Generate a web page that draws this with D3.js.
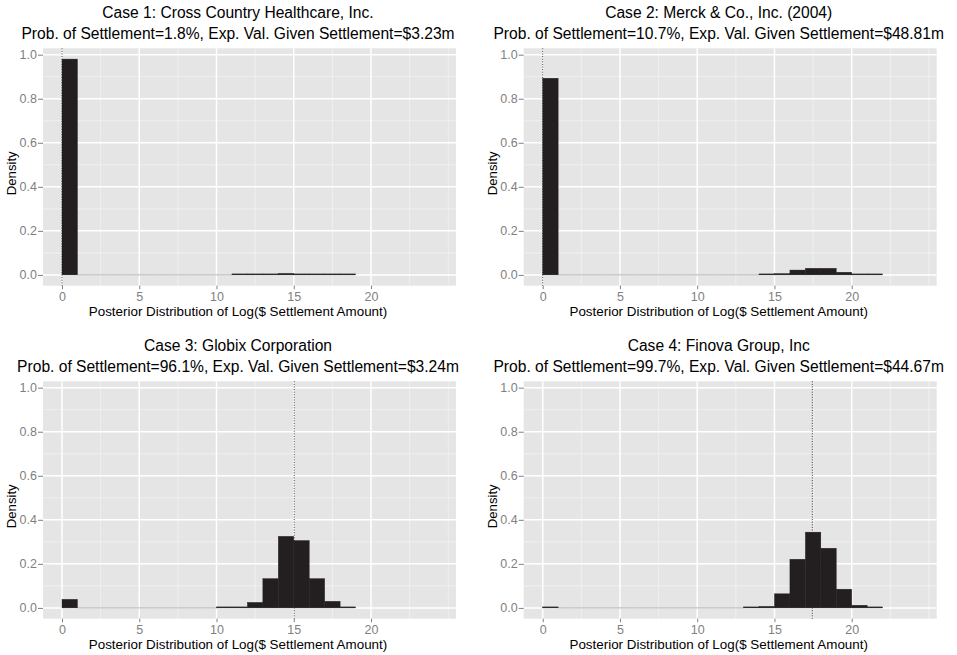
<!DOCTYPE html>
<html><head><meta charset="utf-8">
<script src="https://cdn.jsdelivr.net/npm/d3@7"></script>
<style>
body{margin:0;background:#fff}
svg{display:block}
text{font-family:"Liberation Sans",Arial,Helvetica,sans-serif}
</style>
</head><body>
<svg id="c" width="957" height="655"></svg>
<script>
// ---------- DATA ----------
const caseTitles = [
  "Case 1: Cross Country Healthcare, Inc.",
  "Case 2: Merck & Co., Inc. (2004)",
  "Case 3: Globix Corporation",
  "Case 4: Finova Group, Inc"
];
const caseSubtitles = [
  "Prob. of Settlement=1.8%, Exp. Val. Given Settlement=$3.23m",
  "Prob. of Settlement=10.7%, Exp. Val. Given Settlement=$48.81m",
  "Prob. of Settlement=96.1%, Exp. Val. Given Settlement=$3.24m",
  "Prob. of Settlement=99.7%, Exp. Val. Given Settlement=$44.67m"
];
const binWidth = 1;   // histogram bins start at 0, width 1
const case1Density = [0.980, 0, 0, 0, 0, 0, 0, 0, 0, 0, 0, 0.0005, 0.001, 0.003, 0.007, 0.003, 0.003, 0.0005, 0.0005];
const case2Density = [0.893, 0, 0, 0, 0, 0, 0, 0, 0, 0, 0, 0, 0, 0, 0.001, 0.006, 0.022, 0.030, 0.030, 0.012, 0.004, 0.001];
const case3Density = [0.039, 0, 0, 0, 0, 0, 0, 0, 0, 0, 0.001, 0.001, 0.025, 0.133, 0.325, 0.306, 0.133, 0.030, 0.002];
const case4Density = [0.003, 0, 0, 0, 0, 0, 0, 0, 0, 0, 0, 0, 0, 0.001, 0.007, 0.064, 0.221, 0.344, 0.271, 0.085, 0.012, 0.002];
const medianLines = [0, 0, 15.03, 17.45];
const xTicks = [0, 5, 10, 15, 20];
const xMinorTicks = [2.5, 7.5, 12.5, 17.5, 22.5, 25];
const yTicks = [0, 0.2, 0.4, 0.6, 0.8, 1.0];
const yMinorTicks = [0.1, 0.3, 0.5, 0.7, 0.9];
const xDomain = [-1.23, 25.5];
const yDomain = [-0.049, 1.029];
const xLabel = "Posterior Distribution of Log($ Settlement Amount)";
const yLabel = "Density";

const densities = [case1Density, case2Density, case3Density, case4Density];

// ---------- LAYOUT ----------
const panels = [
  {ox: 0,   oy: 0,   left: 43},
  {ox: 478, oy: 0,   left: 45.7},
  {ox: 0,   oy: 333, left: 43},
  {ox: 478, oy: 333, left: 45.7}
];
const plotW = 413, plotTop = 48.3, plotBottom = 285.7;
const barColor = "#231f20";

const svg = d3.select("#c");

panels.forEach((p, i) => {
  const L = p.ox + p.left, R = L + plotW;
  const T = p.oy + plotTop, B = p.oy + plotBottom;
  const x = d3.scaleLinear().domain(xDomain).range([L, R]);
  const y = d3.scaleLinear().domain(yDomain).range([B, T]);
  const g = svg.append("g");

  // background
  g.append("rect").attr("x", L).attr("y", T).attr("width", R - L).attr("height", B - T).attr("fill", "#e5e5e5");

  // minor grid
  g.selectAll(".vmin").data(xMinorTicks).join("line")
    .attr("x1", d => x(d)).attr("x2", d => x(d)).attr("y1", T).attr("y2", B)
    .attr("stroke", "#f2f2f2").attr("stroke-width", 0.8);
  g.selectAll(".hmin").data(yMinorTicks).join("line")
    .attr("x1", L).attr("x2", R).attr("y1", d => y(d)).attr("y2", d => y(d))
    .attr("stroke", "#f2f2f2").attr("stroke-width", 0.8);
  // major grid
  g.selectAll(".vmaj").data(xTicks).join("line")
    .attr("x1", d => x(d)).attr("x2", d => x(d)).attr("y1", T).attr("y2", B)
    .attr("stroke", "#ffffff").attr("stroke-width", 1.5);
  g.selectAll(".hmaj").data(yTicks).join("line")
    .attr("x1", L).attr("x2", R).attr("y1", d => y(d)).attr("y2", d => y(d))
    .attr("stroke", "#ffffff").attr("stroke-width", 1.5);

  // bars
  const bins = densities[i].map((v, k) => ({x0: k * binWidth, x1: (k + 1) * binWidth, v}));
  g.selectAll(".zero").data(bins.filter(b => b.v === 0)).join("line")
    .attr("x1", b => x(b.x0)).attr("x2", b => x(b.x1))
    .attr("y1", y(0)).attr("y2", y(0))
    .attr("stroke", "#ababab").attr("stroke-width", 1);
  g.selectAll(".bar").data(bins.filter(b => b.v > 0)).join("rect")
    .attr("x", b => x(b.x0))
    .attr("width", b => x(b.x1) - x(b.x0))
    .attr("y", b => Math.min(y(b.v), y(0) - 1))
    .attr("height", b => Math.max(y(0) - y(b.v), 1))
    .attr("fill", barColor).attr("stroke", barColor).attr("stroke-width", 0.4);

  // median dotted line
  g.append("line")
    .attr("x1", x(medianLines[i])).attr("x2", x(medianLines[i]))
    .attr("y1", T).attr("y2", B)
    .attr("stroke", "#222").attr("stroke-width", 0.9).attr("stroke-dasharray", "1,1.6");

  // axes
  const xAxis = d3.axisBottom(x).tickValues(xTicks).tickSize(3.5).tickPadding(2.5).tickFormat(d3.format("d"));
  const ax = g.append("g").attr("transform", `translate(0,${B})`).call(xAxis);
  const yAxis = d3.axisLeft(y).tickValues(yTicks).tickSize(5).tickPadding(1).tickFormat(d3.format(".1f"));
  const ay = g.append("g").attr("transform", `translate(${L},0)`).call(yAxis);
  [ax, ay].forEach(a => {
    a.select(".domain").remove();
    a.selectAll(".tick line").attr("stroke", "#7f7f7f");
    a.selectAll(".tick text").attr("fill", "#7f7f7f").style("font-size", "12.5px")
      .style("font-family", '"Liberation Sans",Arial,sans-serif');
  });

  // titles
  const cx = L + 195;
  g.append("text").attr("x", cx).attr("y", p.oy + 18.3).attr("text-anchor", "middle")
    .style("font-size", "15.6px").text(caseTitles[i]);
  g.append("text").attr("x", cx).attr("y", p.oy + 39.3).attr("text-anchor", "middle")
    .style("font-size", "15.6px").text(caseSubtitles[i]);
  g.append("text").attr("x", cx).attr("y", p.oy + 316).attr("text-anchor", "middle")
    .style("font-size", "13.4px").text(xLabel);
  g.append("text").attr("transform", `translate(${L - 27},${p.oy + 173.3}) rotate(-90)`)
    .attr("text-anchor", "middle").style("font-size", "13.2px").text(yLabel);
});
</script>
</body></html>
